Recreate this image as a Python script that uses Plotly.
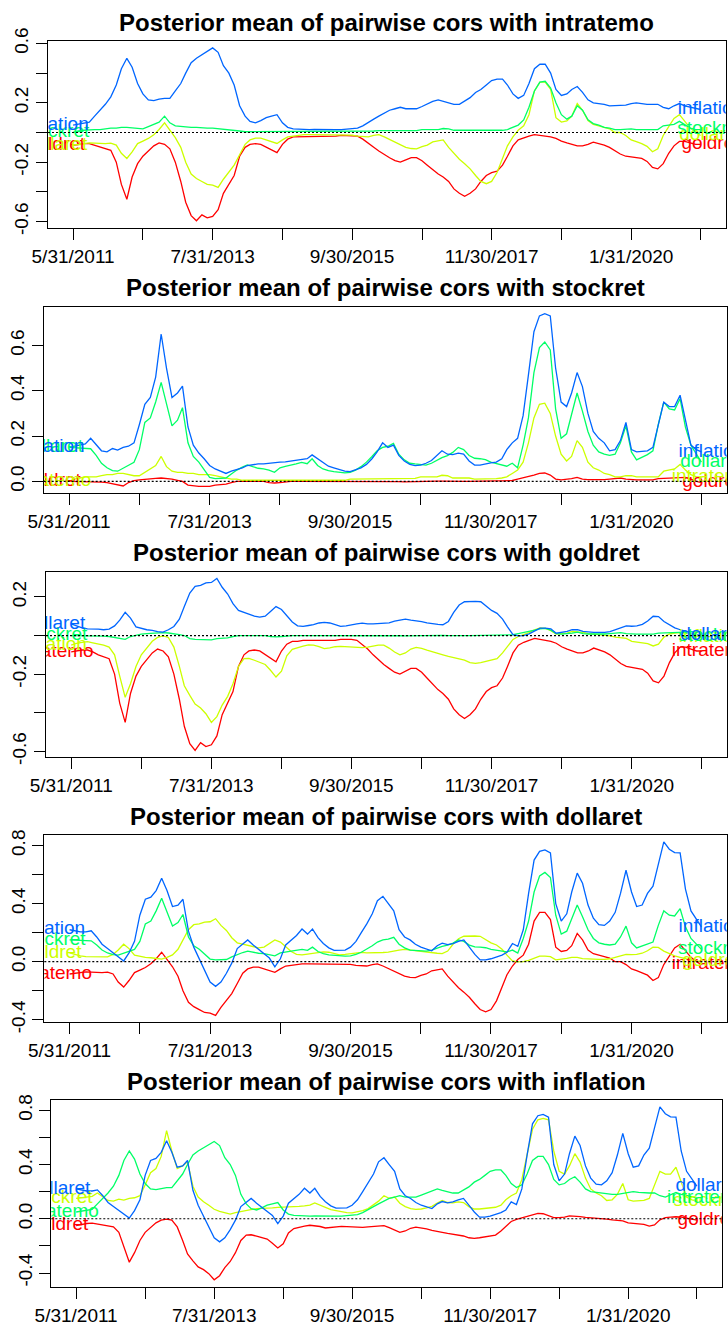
import pandas as pd
import plotly.graph_objects as go

W, H = 728, 1323
FONT = "Liberation Sans, Arial, sans-serif"

# Monthly observation dates (month ends)
dates = pd.date_range("2011-05-31", periods=118, freq=pd.offsets.MonthEnd())

x_tick_dates = list(dates[::13])
x_tick_text = ["5/31/2011", "", "7/31/2013", "", "9/30/2015", "",
               "11/30/2017", "", "1/31/2020", ""]

# Posterior mean pairwise correlations, one list per variable pair
intratemo_inflation = [
    0.05, 0.055, 0.06, 0.07, 0.11, 0.15, 0.19, 0.24, 0.32, 0.43, 0.50, 0.44, 0.33,
    0.26, 0.22, 0.215, 0.225, 0.23, 0.23, 0.28, 0.33, 0.40, 0.47, 0.50, 0.525, 0.55,
    0.57, 0.54, 0.45, 0.40, 0.32, 0.18, 0.11, 0.075, 0.065, 0.08, 0.10, 0.11, 0.12,
    0.065, 0.035, 0.025, 0.022, 0.02, 0.02, 0.021, 0.022, 0.022, 0.021, 0.02, 0.02, 0.022,
    0.025, 0.03, 0.045, 0.065, 0.09, 0.11, 0.13, 0.15, 0.16, 0.17, 0.16, 0.16, 0.16,
    0.175, 0.19, 0.21, 0.22, 0.21, 0.20, 0.19, 0.19, 0.21, 0.235, 0.27, 0.29, 0.32,
    0.35, 0.36, 0.36, 0.32, 0.26, 0.23, 0.25, 0.33, 0.43, 0.46, 0.46, 0.40, 0.29,
    0.25, 0.26, 0.29, 0.31, 0.27, 0.22, 0.20, 0.195, 0.19, 0.18, 0.18, 0.18, 0.185,
    0.195, 0.20, 0.195, 0.19, 0.19, 0.19, 0.17, 0.16, 0.18, 0.195, 0.18, 0.17, 0.16,
    0.155]
intratemo_stockret = [
    0.0, 0.01, 0.015, 0.02, 0.02, 0.02, 0.025, 0.03, 0.03, 0.035, 0.035, 0.03, 0.025,
    0.025, 0.04, 0.055, 0.07, 0.11, 0.065, 0.045, 0.04, 0.04, 0.035, 0.035, 0.03, 0.03,
    0.03, 0.025, 0.02, 0.015, 0.01, 0.01, 0.005, 0.005, 0.005, 0.005, 0.005, 0.005, 0.005,
    0.005, 0.005, 0.005, 0.005, 0.005, 0.005, 0.005, 0.005, 0.005, 0.005, 0.005, 0.005, 0.005,
    0.01, 0.01, 0.01, 0.01, 0.01, 0.013, 0.013, 0.013, 0.013, 0.013, 0.013, 0.013, 0.013,
    0.02, 0.02, 0.02, 0.02, 0.027, 0.025, 0.015, 0.015, 0.015, 0.015, 0.01, 0.01, 0.01,
    0.01, 0.012, 0.015, 0.02, 0.035, 0.05, 0.085, 0.17, 0.28, 0.34, 0.345, 0.30, 0.20,
    0.12, 0.09, 0.11, 0.18, 0.15, 0.085, 0.06, 0.05, 0.035, 0.03, 0.02, 0.02, 0.025,
    0.025, 0.02, 0.02, 0.02, 0.02, 0.02, 0.045, 0.05, 0.055, 0.075, 0.05, 0.03, 0.02,
    0.02]
intratemo_goldret = [
    -0.085, -0.08, -0.075, -0.075, -0.085, -0.10, -0.11, -0.12, -0.20, -0.35, -0.45, -0.30, -0.21,
    -0.16, -0.125, -0.09, -0.07, -0.08, -0.11, -0.20, -0.33, -0.47, -0.56, -0.595, -0.555, -0.575,
    -0.566, -0.52, -0.41, -0.35, -0.29, -0.16, -0.10, -0.08, -0.075, -0.08, -0.10, -0.12, -0.136,
    -0.08, -0.045, -0.03, -0.03, -0.025, -0.025, -0.025, -0.025, -0.025, -0.025, -0.025, -0.02, -0.02,
    -0.02, -0.025, -0.045, -0.07, -0.10, -0.125, -0.15, -0.17, -0.19, -0.20, -0.185, -0.17, -0.17,
    -0.19, -0.22, -0.25, -0.28, -0.30, -0.33, -0.38, -0.41, -0.43, -0.41, -0.38, -0.33, -0.29,
    -0.27, -0.26, -0.22, -0.16, -0.09, -0.05, -0.035, -0.025, -0.015, -0.02, -0.025, -0.03, -0.04,
    -0.058, -0.07, -0.08, -0.09, -0.09, -0.08, -0.065, -0.075, -0.085, -0.10, -0.125, -0.145, -0.16,
    -0.165, -0.17, -0.175, -0.195, -0.235, -0.245, -0.21, -0.14, -0.09, -0.06, -0.06, -0.07, -0.08,
    -0.08]
intratemo_dollaret = [
    -0.085, -0.08, -0.075, -0.07, -0.072, -0.074, -0.075, -0.072, -0.085, -0.14, -0.175, -0.13, -0.075,
    -0.058, -0.04, -0.015, 0.02, 0.065, 0.015, -0.035, -0.10, -0.20, -0.28, -0.31, -0.33, -0.35,
    -0.355, -0.37, -0.315, -0.27, -0.22, -0.15, -0.08, -0.05, -0.038, -0.038, -0.05, -0.065, -0.074,
    -0.05, -0.03, -0.025, -0.018, -0.015, -0.015, -0.015, -0.013, -0.013, -0.013, -0.013, -0.013, -0.013,
    -0.018, -0.025, -0.028, -0.03, -0.02, -0.015, -0.03, -0.047, -0.065, -0.085, -0.10, -0.108, -0.11,
    -0.095, -0.085, -0.063, -0.055, -0.05, -0.10, -0.14, -0.18, -0.21, -0.245, -0.29, -0.33, -0.345,
    -0.33, -0.27, -0.17, -0.09, -0.03, 0.015, 0.045, 0.12, 0.28, 0.34, 0.34, 0.29, 0.10,
    0.07, 0.078, 0.11, 0.195, 0.15, 0.08, 0.055, 0.045, 0.035, 0.025, 0.0, 0.0, -0.02,
    -0.05, -0.062, -0.075, -0.093, -0.13, -0.11, -0.02, 0.04, 0.095, 0.12, 0.075, 0.03, 0.0,
    -0.02]
stockret_inflation = [
    0.15, 0.155, 0.16, 0.165, 0.19, 0.16, 0.135, 0.13, 0.145, 0.138, 0.15, 0.155, 0.17,
    0.25, 0.34, 0.37, 0.46, 0.65, 0.50, 0.37, 0.39, 0.42, 0.24, 0.16, 0.125, 0.10,
    0.07, 0.055, 0.045, 0.035, 0.045, 0.052, 0.06, 0.07, 0.075, 0.077, 0.077, 0.08, 0.084,
    0.085, 0.086, 0.09, 0.092, 0.095, 0.10, 0.117, 0.10, 0.08, 0.067, 0.06, 0.052, 0.045,
    0.043, 0.05, 0.06, 0.075, 0.10, 0.13, 0.17, 0.15, 0.16, 0.115, 0.09, 0.075, 0.07,
    0.072, 0.08, 0.092, 0.115, 0.135, 0.12, 0.118, 0.125, 0.12, 0.09, 0.072, 0.072, 0.078,
    0.082, 0.085, 0.10, 0.14, 0.17, 0.19, 0.29, 0.47, 0.66, 0.73, 0.74, 0.73, 0.50,
    0.35, 0.33, 0.39, 0.48, 0.418, 0.30, 0.22, 0.19, 0.17, 0.135, 0.14, 0.18, 0.26,
    0.14, 0.13, 0.132, 0.135, 0.15, 0.25, 0.35, 0.33, 0.33, 0.38, 0.27, 0.16, 0.14,
    0.13]
stockret_dollaret = [
    0.15, 0.148, 0.147, 0.147, 0.144, 0.115, 0.08, 0.06, 0.048, 0.045, 0.058, 0.07, 0.084,
    0.14, 0.26, 0.28, 0.35, 0.437, 0.34, 0.245, 0.27, 0.325, 0.17, 0.11, 0.085, 0.05,
    0.018, 0.012, 0.012, 0.015, 0.033, 0.05, 0.063, 0.073, 0.065, 0.058, 0.055, 0.05, 0.04,
    0.06, 0.066, 0.07, 0.077, 0.084, 0.078, 0.10, 0.07, 0.055, 0.047, 0.043, 0.04, 0.038,
    0.04, 0.05, 0.065, 0.085, 0.11, 0.135, 0.15, 0.155, 0.168, 0.12, 0.095, 0.08, 0.077,
    0.075, 0.072, 0.08, 0.095, 0.105, 0.114, 0.128, 0.15, 0.14, 0.114, 0.102, 0.10, 0.096,
    0.085, 0.078, 0.07, 0.067, 0.08, 0.06, 0.16, 0.28, 0.48, 0.59, 0.615, 0.58, 0.32,
    0.19, 0.21, 0.29, 0.39, 0.31, 0.22, 0.16, 0.13, 0.12, 0.115, 0.12, 0.17, 0.245,
    0.13, 0.095, 0.108, 0.118, 0.135, 0.25, 0.35, 0.32, 0.315, 0.365, 0.24, 0.16, 0.12,
    0.085]
stockret_goldret = [
    0.0, 0.0, 0.0, 0.0, 0.0, -0.002, -0.003, -0.005, -0.01, -0.018, -0.02, -0.005, 0.003,
    0.007, 0.01, 0.012, 0.013, 0.015, 0.013, 0.01, 0.005, 0.0, -0.016, -0.02, -0.022, -0.022,
    -0.022, -0.016, -0.013, -0.012, -0.005, 0.0, 0.0, 0.0, 0.0, 0.0, 0.0, -0.005, -0.007,
    -0.005, -0.002, 0.0, 0.0, 0.0, 0.001, 0.002, 0.002, 0.001, 0.0, 0.0, 0.0, 0.0,
    0.0, 0.0, 0.001, 0.002, 0.002, 0.001, 0.0, 0.0, 0.0, -0.001, -0.002, -0.001, 0.0,
    0.0, 0.0, 0.0, 0.001, 0.001, 0.0, -0.001, -0.001, 0.0, 0.0, 0.001, 0.001, 0.002,
    0.002, 0.002, 0.002, 0.003, 0.004, 0.01, 0.015, 0.02, 0.028, 0.035, 0.037, 0.028, 0.01,
    0.007, 0.008, 0.012, 0.018, 0.01, 0.008, 0.007, 0.007, 0.008, 0.01, 0.012, 0.015, 0.01,
    0.007, 0.007, 0.007, 0.007, 0.007, 0.012, 0.013, 0.013, 0.013, 0.015, 0.018, 0.01, 0.0,
    -0.005]
goldret_dollaret = [
    0.06, 0.05, 0.04, 0.035, 0.035, 0.033, 0.03, 0.033, 0.05, 0.08, 0.12, 0.09, 0.045,
    0.036, 0.03, 0.027, 0.02, 0.018, 0.03, 0.047, 0.085, 0.15, 0.22, 0.255, 0.26, 0.273,
    0.275, 0.296, 0.25, 0.215, 0.165, 0.13, 0.12, 0.11, 0.10, 0.095, 0.10, 0.125, 0.15,
    0.135, 0.10, 0.07, 0.05, 0.047, 0.052, 0.056, 0.065, 0.068, 0.065, 0.058, 0.047, 0.05,
    0.056, 0.06, 0.064, 0.06, 0.06, 0.062, 0.063, 0.066, 0.075, 0.08, 0.085, 0.08, 0.077,
    0.072, 0.066, 0.061, 0.058, 0.056, 0.073, 0.12, 0.158, 0.175, 0.177, 0.177, 0.175, 0.152,
    0.13, 0.115, 0.085, 0.045, 0.005, -0.002, 0.0, 0.009, 0.025, 0.038, 0.038, 0.035, 0.012,
    0.016, 0.022, 0.03, 0.03, 0.021, 0.018, 0.016, 0.016, 0.016, 0.02, 0.03, 0.04, 0.05,
    0.048, 0.05, 0.058, 0.075, 0.10, 0.098, 0.073, 0.055, 0.04, 0.03, 0.02, 0.012, 0.005,
    0.0]
goldret_inflation = [
    -0.05, -0.04, -0.035, -0.032, -0.038, -0.043, -0.05, -0.06, -0.10, -0.21, -0.32, -0.25, -0.16,
    -0.10, -0.065, -0.03, -0.01, -0.002, -0.01, -0.06, -0.16, -0.26, -0.31, -0.355, -0.375, -0.405,
    -0.45, -0.42, -0.36, -0.315, -0.25, -0.16, -0.12, -0.118, -0.128, -0.14, -0.15, -0.18, -0.215,
    -0.185, -0.105, -0.072, -0.062, -0.055, -0.048, -0.05, -0.057, -0.068, -0.064, -0.058, -0.056, -0.058,
    -0.06, -0.062, -0.063, -0.06, -0.056, -0.05, -0.05, -0.065, -0.085, -0.10, -0.09, -0.07, -0.061,
    -0.066, -0.075, -0.085, -0.095, -0.10, -0.108, -0.115, -0.12, -0.127, -0.14, -0.144, -0.14, -0.132,
    -0.127, -0.12, -0.09, -0.055, -0.02, -0.005, 0.005, 0.015, 0.03, 0.04, 0.037, 0.025, 0.008,
    0.009, 0.012, 0.022, 0.02, 0.016, 0.01, 0.008, 0.004, 0.002, -0.002, -0.008, -0.01, -0.015,
    -0.03, -0.033, -0.035, -0.042, -0.054, -0.045, -0.008, 0.008, 0.012, 0.015, 0.012, 0.005, -0.003,
    -0.01]
dollaret_inflation = [
    0.22, 0.21, 0.205, 0.205, 0.213, 0.17, 0.12, 0.09, 0.06, 0.03, 0.005, 0.06, 0.14,
    0.32, 0.43, 0.445, 0.49, 0.575, 0.49, 0.38, 0.39, 0.43, 0.21, 0.10, 0.02, -0.06,
    -0.14, -0.17, -0.14, -0.08, -0.01, 0.09, 0.12, 0.15, 0.115, 0.085, 0.06, 0.025, -0.035,
    0.02, 0.115, 0.15, 0.18, 0.225, 0.19, 0.225, 0.165, 0.125, 0.095, 0.078, 0.077, 0.08,
    0.10, 0.14, 0.20, 0.26, 0.33, 0.42, 0.45, 0.40, 0.35, 0.22, 0.17, 0.15, 0.12,
    0.10, 0.085, 0.075, 0.11, 0.127, 0.118, 0.125, 0.14, 0.15, 0.10, 0.05, 0.012, 0.012,
    0.02, 0.03, 0.045, 0.065, 0.125, 0.105, 0.22, 0.47, 0.70, 0.76, 0.77, 0.75, 0.40,
    0.28, 0.33, 0.48, 0.61, 0.54, 0.39, 0.30, 0.255, 0.25, 0.28, 0.34, 0.47, 0.63,
    0.48, 0.38, 0.39, 0.47, 0.52, 0.67, 0.825, 0.775, 0.752, 0.75, 0.50, 0.35, 0.29,
    0.24]

RED, YELLOW, GREEN, BLUE = "#FF0000", "#CCFF00", "#00FF66", "#0066FF"

# One panel per variable: the other four pairwise series, drawn red -> blue
panels = [
    dict(var="intratemo", box=(48, 725.7, 41, 227.7),
         series=[(intratemo_goldret, RED, "goldret"), (intratemo_dollaret, YELLOW, "dollaret"),
                 (intratemo_stockret, GREEN, "stockret"), (intratemo_inflation, BLUE, "inflation")],
         yticks=[-0.6, -0.4, -0.2, 0.0, 0.2, 0.4, 0.6],
         ylabels=["-0.6", "", "-0.2", "", "0.2", "", "0.6"]),
    dict(var="stockret", box=(43.7, 726.7, 306.7, 493.3),
         series=[(stockret_goldret, RED, "goldret"), (intratemo_stockret, YELLOW, "intratemo"),
                 (stockret_dollaret, GREEN, "dollaret"), (stockret_inflation, BLUE, "inflation")],
         yticks=[0.0, 0.2, 0.4, 0.6],
         ylabels=["0.0", "0.2", "0.4", "0.6"]),
    dict(var="goldret", box=(46, 726.7, 571.5, 757.3),
         series=[(intratemo_goldret, RED, "intratemo"), (goldret_inflation, YELLOW, "inflation"),
                 (stockret_goldret, GREEN, "stockret"), (goldret_dollaret, BLUE, "dollaret")],
         yticks=[-0.6, -0.4, -0.2, 0.0, 0.2],
         ylabels=["-0.6", "", "-0.2", "", "0.2"]),
    dict(var="dollaret", box=(44.3, 726.7, 835, 1022.3),
         series=[(intratemo_dollaret, RED, "intratemo"), (goldret_dollaret, YELLOW, "goldret"),
                 (stockret_dollaret, GREEN, "stockret"), (dollaret_inflation, BLUE, "inflation")],
         yticks=[-0.4, -0.2, 0.0, 0.2, 0.4, 0.6, 0.8],
         ylabels=["-0.4", "", "0.0", "", "0.4", "", "0.8"]),
    dict(var="inflation", box=(51.3, 721.7, 1100, 1286.7),
         series=[(goldret_inflation, RED, "goldret"), (stockret_inflation, YELLOW, "stockret"),
                 (intratemo_inflation, GREEN, "intratemo"), (dollaret_inflation, BLUE, "dollaret")],
         yticks=[-0.4, -0.2, 0.0, 0.2, 0.4, 0.6, 0.8],
         ylabels=["-0.4", "", "0.0", "", "0.4", "", "0.8"]),
]

# x range padded by 4% of the data span on both sides
span = dates[-1] - dates[0]
x_range = [dates[0] - 0.04 * span, dates[-1] + 0.04 * span]
# series name labels sit just outside the first and last observation
label_left_x = dates[0] - pd.Timedelta(days=97)
label_right_x = dates[-1] + pd.Timedelta(days=56)

fig = go.Figure()
layout = dict(width=W, height=H, margin=dict(l=0, r=0, t=0, b=0, pad=0), autosize=False,
              paper_bgcolor="white", plot_bgcolor="white", showlegend=False,
              font=dict(family=FONT, color="black"), shapes=[], annotations=[])

axis_common = dict(ticks="outside", ticklen=11, tickwidth=1.2, tickcolor="black",
                   showline=True, linecolor="black", linewidth=1.2, mirror=True,
                   showgrid=False, zeroline=False, automargin=False,
                   tickfont=dict(family=FONT, size=19, color="black"))

for i, p in enumerate(panels, start=1):
    xa, ya = ("x" if i == 1 else f"x{i}"), ("y" if i == 1 else f"y{i}")
    x0, x1, y0, y1 = p["box"]
    lo = min(min(s) for s, _, _ in p["series"])
    hi = max(max(s) for s, _, _ in p["series"])
    pad = 0.04 * (hi - lo)

    layout[f"xaxis{'' if i == 1 else i}"] = dict(
        domain=[x0 / W, x1 / W], anchor=ya, type="date", range=x_range,
        tickmode="array", tickvals=x_tick_dates, ticktext=x_tick_text,
        tickangle=0, **axis_common)
    layout[f"yaxis{'' if i == 1 else i}"] = dict(
        domain=[1 - y1 / H, 1 - y0 / H], anchor=xa, range=[lo - pad, hi + pad],
        tickmode="array", tickvals=p["yticks"], ticktext=p["ylabels"],
        tickangle=-90, **axis_common)

    for vals, color, name in p["series"]:
        fig.add_trace(go.Scatter(x=dates, y=vals, mode="lines", xaxis=xa, yaxis=ya,
                                 line=dict(color=color, width=1.3), hoverinfo="skip"))
    for vals, color, name in p["series"]:
        fig.add_trace(go.Scatter(x=[label_left_x, label_right_x], y=[vals[0], vals[-1]],
                                 mode="text", text=[name, name], xaxis=xa, yaxis=ya,
                                 textposition="middle center", cliponaxis=True,
                                 textfont=dict(family=FONT, size=19, color=color),
                                 hoverinfo="skip"))

    layout["shapes"].append(dict(type="line", xref=f"{xa} domain", x0=0, x1=1,
                                 yref=ya, y0=0, y1=0, layer="above",
                                 line=dict(color="black", width=1.2, dash="2px,2px")))
    layout["annotations"].append(dict(
        text=f"Posterior mean of pairwise cors with {p['var']}",
        xref="paper", yref="paper", x=(x0 + x1) / 2 / W, y=1 - (y0 - 19) / H,
        xanchor="center", yanchor="middle", showarrow=False,
        font=dict(family=FONT, size=24, color="black", weight="bold")))

fig.update_layout(**layout)
fig.write_html("out.html")
